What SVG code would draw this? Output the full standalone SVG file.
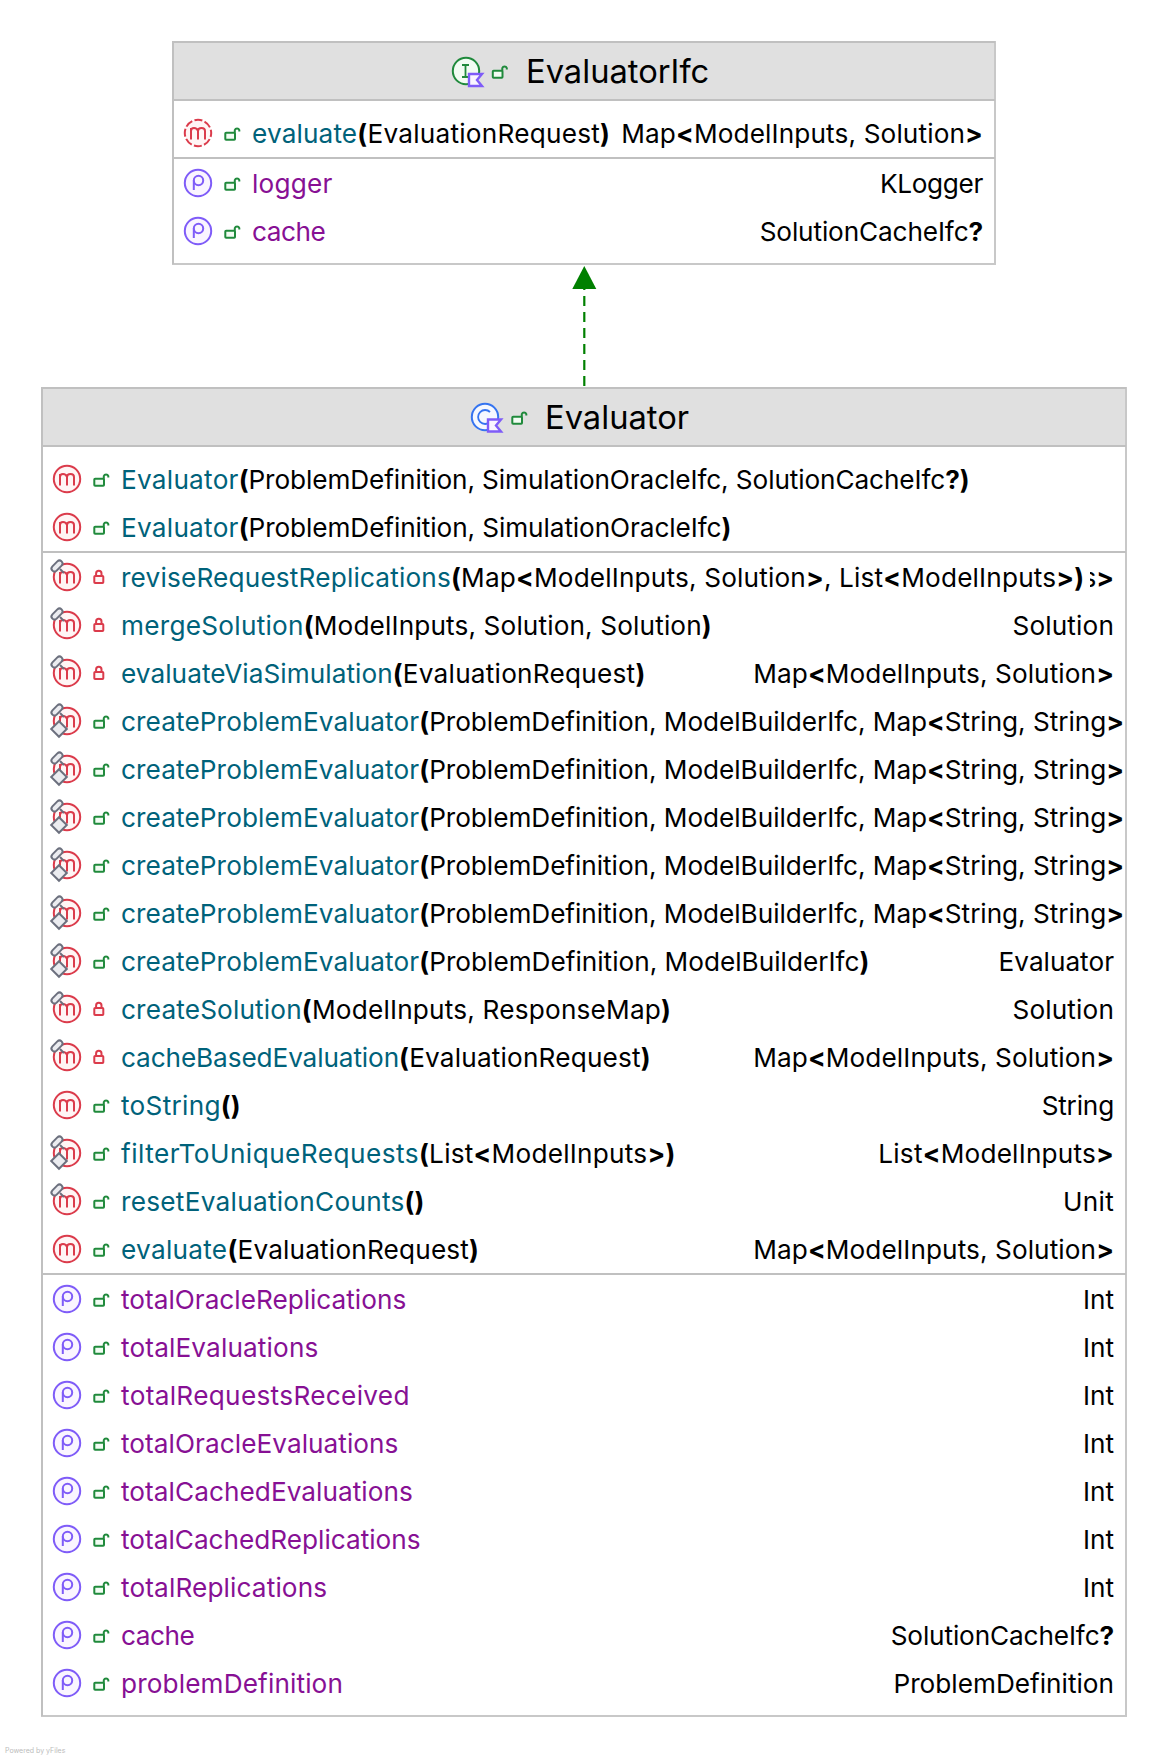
<svg xmlns="http://www.w3.org/2000/svg" width="1168" height="1758" viewBox="0 0 1168 1758">
<style>
text{font-family:Inter,"Noto Sans",sans-serif;font-size:26.200px;fill:#000}
.h{font-size:32.700px}
.m{fill:#00627a}
.p{fill:#871094}
.b{font-weight:700}
.r{text-anchor:end}
.box{fill:#fff;stroke:#c8c8c8;stroke-width:2}
.hd{fill:#e0e0e0}
.sep{stroke:#c0c0c0;stroke-width:2}
</style>
<defs>
<g id="im"><circle r="13.200" fill="#fff5f5" stroke="#db3b4b" stroke-width="2"/><path d="M-7 6.500V-5M-7-2Q-7-5-4-5T0-2V6.500M0-2Q0-5 3.500-5T7-2V6.500" fill="none" stroke="#db3b4b" stroke-width="2"/></g>
<g id="ia"><circle r="13.200" fill="#fff5f5" stroke="#db3b4b" stroke-width="2" stroke-dasharray="8 2.370" stroke-dashoffset="4"/><path d="M-7 6.500V-5M-7-2Q-7-5-4-5T0-2V6.500M0-2Q0-5 3.500-5T7-2V6.500" fill="none" stroke="#db3b4b" stroke-width="2"/></g>
<g id="ip"><circle r="13.200" fill="#faf5ff" stroke="#7f5cf8" stroke-width="2"/><circle cx=".5" cy="-2.500" r="4.700" fill="none" stroke="#7f5cf8" stroke-width="2"/><path d="M-4.200-2.500V7" stroke="#7f5cf8" stroke-width="2"/></g>
<g id="pin"><path d="M3 3L7 7" stroke="#6c707e" stroke-width="2"/><rect x="-6.500" y="-3" width="13" height="6" rx="3" transform="rotate(-45)" fill="#ebecf0" stroke="#6c707e" stroke-width="2"/></g>
<g id="sta"><rect x="-5.500" y="-5.500" width="11" height="11" transform="rotate(45)" fill="#ebecf0" stroke="#6c707e" stroke-width="2"/></g>
<g id="lo"><rect x="-6.700" y="-.3" width="9.700" height="7" rx=".8" fill="#f2fcf3" stroke="#208a3c" stroke-width="2"/><path d="M2.800-.3V-3A2.400 2.400 0 0 1 7.300-3V-1.500" fill="none" stroke="#208a3c" stroke-width="2"/></g>
<g id="lc"><rect x="-4.500" y="-1" width="9" height="7" rx=".8" fill="#fff5f5" stroke="#db3b4b" stroke-width="2"/><path d="M-2.700-1V-3.500A2.700 2.700 0 0 1 2.700-3.500V-1" fill="none" stroke="#db3b4b" stroke-width="2"/></g>
<g id="kt"><path d="M-6-6H7L2 0 7 6H-6Z" fill="#faf5ff" stroke="#7f5cf8" stroke-width="2.400"/></g>
</defs>
<g id="connectors">
<path d="M584.300 386V288" fill="none" stroke="#008000" stroke-width="2.200" stroke-dasharray="10 6"/>
<path d="M584.300 266L596.300 289H572.300Z" fill="#008000"/>
</g>
<g id="node-EvaluatorIfc">
<rect class="box" x="173" y="42" width="822" height="222"/>
<rect class="hd" x="174" y="43" width="820" height="57"/>
<path class="sep" d="M173 100H995M173 158H995"/>
<path d="M172 42H995M173 42V264" fill="none" stroke="#c0c0c0" stroke-width="2"/>
<circle cx="466" cy="71" r="13.200" fill="#f2fcf3" stroke="#208a3c" stroke-width="2"/><path d="M462 65h7M465.500 65v12M462 77h7" stroke="#208a3c" stroke-width="1.800" fill="none"/>
<use href="#kt" x="475" y="80"/>
<use href="#lo" x="499.500" y="71"/>
<text class="h" x="526" y="83">EvaluatorIfc</text>
<use href="#ia" x="198" y="133"/><use href="#lo" x="232" y="133"/>
<text x="252" y="143"><tspan class="m" letter-spacing=".14">evaluate</tspan><tspan letter-spacing=".24"><tspan class="b">(</tspan>EvaluationRequest<tspan class="b">)</tspan></tspan></text>
<text class="r" x="983" y="143" letter-spacing=".13">Map<tspan class="b">&lt;</tspan>ModelInputs, Solution<tspan class="b">&gt;</tspan></text>
<use href="#ip" x="198" y="183"/><use href="#lo" x="232" y="183"/>
<text class="p" x="252" y="193" letter-spacing=".19">logger</text><text class="r" x="983" y="193" letter-spacing="-.32">KLogger</text>
<use href="#ip" x="198" y="231"/><use href="#lo" x="232" y="231"/>
<text class="p" x="252" y="241" letter-spacing="-.45">cache</text><text class="r" x="983" y="241" letter-spacing="-.13">SolutionCacheIfc<tspan class="b">?</tspan></text>
</g>
<g id="node-Evaluator">
<rect class="box" x="42" y="388" width="1084" height="1328"/>
<rect class="hd" x="43" y="389" width="1082" height="57"/>
<path class="sep" d="M42 446H1126M42 552H1126M42 1274H1126"/>
<path d="M41 388H1126M42 388V1716" fill="none" stroke="#c0c0c0" stroke-width="2"/>
<circle cx="485" cy="417" r="13.200" fill="#f5f8ff" stroke="#3574f0" stroke-width="2"/><path d="M490 412A7 7 0 1 0 490 422" fill="none" stroke="#3574f0" stroke-width="1.800"/>
<use href="#kt" x="494" y="425.500"/>
<use href="#lo" x="519" y="417"/>
<text class="h" x="545" y="429">Evaluator</text>

<use href="#im" x="67" y="479"/><use href="#lo" x="101" y="479"/>
<text x="121" y="489"><tspan class="m" letter-spacing=".25">Evaluator</tspan><tspan letter-spacing="-.095"><tspan class="b">(</tspan>ProblemDefinition, SimulationOracleIfc, SolutionCacheIfc<tspan class="b">?)</tspan></tspan></text>
<use href="#im" x="67" y="527"/><use href="#lo" x="101" y="527"/>
<text x="121" y="537"><tspan class="m" letter-spacing=".25">Evaluator</tspan><tspan letter-spacing="-.087"><tspan class="b">(</tspan>ProblemDefinition, SimulationOracleIfc<tspan class="b">)</tspan></tspan></text>

<use href="#im" x="67" y="577"/><use href="#pin" x="57" y="566"/><use href="#lc" x="98.800" y="577"/>
<text class="r" x="1114" y="587">s<tspan class="b">&gt;</tspan></text>
<rect x="1083" y="565" width="7" height="30" fill="#fff"/>
<text x="121" y="587"><tspan class="m" letter-spacing=".18">reviseRequestReplications</tspan><tspan letter-spacing=".166"><tspan class="b">(</tspan>Map<tspan class="b">&lt;</tspan>ModelInputs, Solution<tspan class="b">&gt;</tspan>, List<tspan class="b">&lt;</tspan>ModelInputs<tspan class="b">&gt;)</tspan></tspan></text>

<use href="#im" x="67" y="625"/><use href="#pin" x="57" y="614"/><use href="#lc" x="98.800" y="625"/>
<text x="121" y="635"><tspan class="m" letter-spacing=".26">mergeSolution</tspan><tspan letter-spacing=".136"><tspan class="b">(</tspan>ModelInputs, Solution, Solution<tspan class="b">)</tspan></tspan></text><text class="r" x="1114" y="635" letter-spacing=".14">Solution</text>

<use href="#im" x="67" y="673"/><use href="#pin" x="57" y="662"/><use href="#lc" x="98.800" y="673"/>
<text x="121" y="683"><tspan class="m" letter-spacing=".05">evaluateViaSimulation</tspan><tspan letter-spacing=".236"><tspan class="b">(</tspan>EvaluationRequest<tspan class="b">)</tspan></tspan></text><text class="r" x="1114" y="683" letter-spacing=".086">Map<tspan class="b">&lt;</tspan>ModelInputs, Solution<tspan class="b">&gt;</tspan></text>

<use href="#im" x="67" y="721"/><use href="#pin" x="57" y="710"/><use href="#sta" x="59" y="729"/><use href="#lo" x="101" y="721"/>
<text x="121" y="731"><tspan class="m" letter-spacing=".1">createProblemEvaluator</tspan><tspan letter-spacing="-.04"><tspan class="b">(</tspan>ProblemDefinition, ModelBuilderIfc, Map<tspan class="b">&lt;</tspan>String, String<tspan class="b">&gt;</tspan></tspan></text>
<use href="#im" x="67" y="769"/><use href="#pin" x="57" y="758"/><use href="#sta" x="59" y="777"/><use href="#lo" x="101" y="769"/>
<text x="121" y="779"><tspan class="m" letter-spacing=".1">createProblemEvaluator</tspan><tspan letter-spacing="-.04"><tspan class="b">(</tspan>ProblemDefinition, ModelBuilderIfc, Map<tspan class="b">&lt;</tspan>String, String<tspan class="b">&gt;</tspan></tspan></text>
<use href="#im" x="67" y="817"/><use href="#pin" x="57" y="806"/><use href="#sta" x="59" y="825"/><use href="#lo" x="101" y="817"/>
<text x="121" y="827"><tspan class="m" letter-spacing=".1">createProblemEvaluator</tspan><tspan letter-spacing="-.04"><tspan class="b">(</tspan>ProblemDefinition, ModelBuilderIfc, Map<tspan class="b">&lt;</tspan>String, String<tspan class="b">&gt;</tspan></tspan></text>
<use href="#im" x="67" y="865"/><use href="#pin" x="57" y="854"/><use href="#sta" x="59" y="873"/><use href="#lo" x="101" y="865"/>
<text x="121" y="875"><tspan class="m" letter-spacing=".1">createProblemEvaluator</tspan><tspan letter-spacing="-.04"><tspan class="b">(</tspan>ProblemDefinition, ModelBuilderIfc, Map<tspan class="b">&lt;</tspan>String, String<tspan class="b">&gt;</tspan></tspan></text>
<use href="#im" x="67" y="913"/><use href="#pin" x="57" y="902"/><use href="#sta" x="59" y="921"/><use href="#lo" x="101" y="913"/>
<text x="121" y="923"><tspan class="m" letter-spacing=".1">createProblemEvaluator</tspan><tspan letter-spacing="-.04"><tspan class="b">(</tspan>ProblemDefinition, ModelBuilderIfc, Map<tspan class="b">&lt;</tspan>String, String<tspan class="b">&gt;</tspan></tspan></text>
<use href="#im" x="67" y="961"/><use href="#pin" x="57" y="950"/><use href="#sta" x="59" y="969"/><use href="#lo" x="101" y="961"/>
<text x="121" y="971"><tspan class="m" letter-spacing=".1">createProblemEvaluator</tspan><tspan class="b">(</tspan>ProblemDefinition, ModelBuilderIfc<tspan class="b">)</tspan></text><text class="r" x="1114" y="971">Evaluator</text>

<use href="#im" x="67" y="1009"/><use href="#pin" x="57" y="998"/><use href="#lc" x="98.800" y="1009"/>
<text x="121" y="1019"><tspan class="m" letter-spacing=".16">createSolution</tspan><tspan letter-spacing=".2"><tspan class="b">(</tspan>ModelInputs, ResponseMap<tspan class="b">)</tspan></tspan></text><text class="r" x="1114" y="1019" letter-spacing=".14">Solution</text>
<use href="#im" x="67" y="1057"/><use href="#pin" x="57" y="1046"/><use href="#lc" x="98.800" y="1057"/>
<text x="121" y="1067"><tspan class="m" letter-spacing="-.11">cacheBasedEvaluation</tspan><tspan letter-spacing=".18"><tspan class="b">(</tspan>EvaluationRequest<tspan class="b">)</tspan></tspan></text><text class="r" x="1114" y="1067" letter-spacing=".086">Map<tspan class="b">&lt;</tspan>ModelInputs, Solution<tspan class="b">&gt;</tspan></text>
<use href="#im" x="67" y="1105"/><use href="#lo" x="101" y="1105"/>
<text x="121" y="1115"><tspan class="m" letter-spacing=".28">toString</tspan><tspan class="b">()</tspan></text><text class="r" x="1114" y="1115" letter-spacing="-.19">String</text>
<use href="#im" x="67" y="1153"/><use href="#pin" x="57" y="1142"/><use href="#sta" x="59" y="1161"/><use href="#lo" x="101" y="1153"/>
<text x="121" y="1163"><tspan class="m" letter-spacing=".46">filterToUniqueRequests</tspan><tspan letter-spacing=".24"><tspan class="b">(</tspan>List<tspan class="b">&lt;</tspan>ModelInputs<tspan class="b">&gt;)</tspan></tspan></text><text class="r" x="1114" y="1163" letter-spacing=".2">List<tspan class="b">&lt;</tspan>ModelInputs<tspan class="b">&gt;</tspan></text>
<use href="#im" x="67" y="1201"/><use href="#pin" x="57" y="1190"/><use href="#lo" x="101" y="1201"/>
<text x="121" y="1211"><tspan class="m" letter-spacing=".27">resetEvaluationCounts</tspan><tspan class="b">()</tspan></text><text class="r" x="1114" y="1211" letter-spacing=".28">Unit</text>
<use href="#im" x="67" y="1249"/><use href="#lo" x="101" y="1249"/>
<text x="121" y="1259"><tspan class="m" letter-spacing=".28">evaluate</tspan><tspan letter-spacing=".18"><tspan class="b">(</tspan>EvaluationRequest<tspan class="b">)</tspan></tspan></text><text class="r" x="1114" y="1259" letter-spacing=".086">Map<tspan class="b">&lt;</tspan>ModelInputs, Solution<tspan class="b">&gt;</tspan></text>

<use href="#ip" x="67" y="1299"/><use href="#lo" x="101" y="1299"/><text class="p" x="121" y="1309">totalOracleReplications</text><text class="r" x="1114" y="1309">Int</text>
<use href="#ip" x="67" y="1347"/><use href="#lo" x="101" y="1347"/><text class="p" x="121" y="1357" letter-spacing=".14">totalEvaluations</text><text class="r" x="1114" y="1357">Int</text>
<use href="#ip" x="67" y="1395"/><use href="#lo" x="101" y="1395"/><text class="p" x="121" y="1405" letter-spacing=".32">totalRequestsReceived</text><text class="r" x="1114" y="1405">Int</text>
<use href="#ip" x="67" y="1443"/><use href="#lo" x="101" y="1443"/><text class="p" x="121" y="1453" letter-spacing=".05">totalOracleEvaluations</text><text class="r" x="1114" y="1453">Int</text>
<use href="#ip" x="67" y="1491"/><use href="#lo" x="101" y="1491"/><text class="p" x="121" y="1501" letter-spacing=".05">totalCachedEvaluations</text><text class="r" x="1114" y="1501">Int</text>
<use href="#ip" x="67" y="1539"/><use href="#lo" x="101" y="1539"/><text class="p" x="121" y="1549">totalCachedReplications</text><text class="r" x="1114" y="1549">Int</text>
<use href="#ip" x="67" y="1587"/><use href="#lo" x="101" y="1587"/><text class="p" x="121" y="1597" letter-spacing=".13">totalReplications</text><text class="r" x="1114" y="1597">Int</text>
<use href="#ip" x="67" y="1635"/><use href="#lo" x="101" y="1635"/><text class="p" x="121" y="1645" letter-spacing="-.45">cache</text><text class="r" x="1114" y="1645" letter-spacing="-.13">SolutionCacheIfc<tspan class="b">?</tspan></text>
<use href="#ip" x="67" y="1683"/><use href="#lo" x="101" y="1683"/><text class="p" x="121" y="1693" letter-spacing=".13">problemDefinition</text><text class="r" x="1114" y="1693">ProblemDefinition</text>
</g>
<text x="5" y="1753" style="font-size:7px;fill:#bbb">Powered by yFiles</text>
</svg>
